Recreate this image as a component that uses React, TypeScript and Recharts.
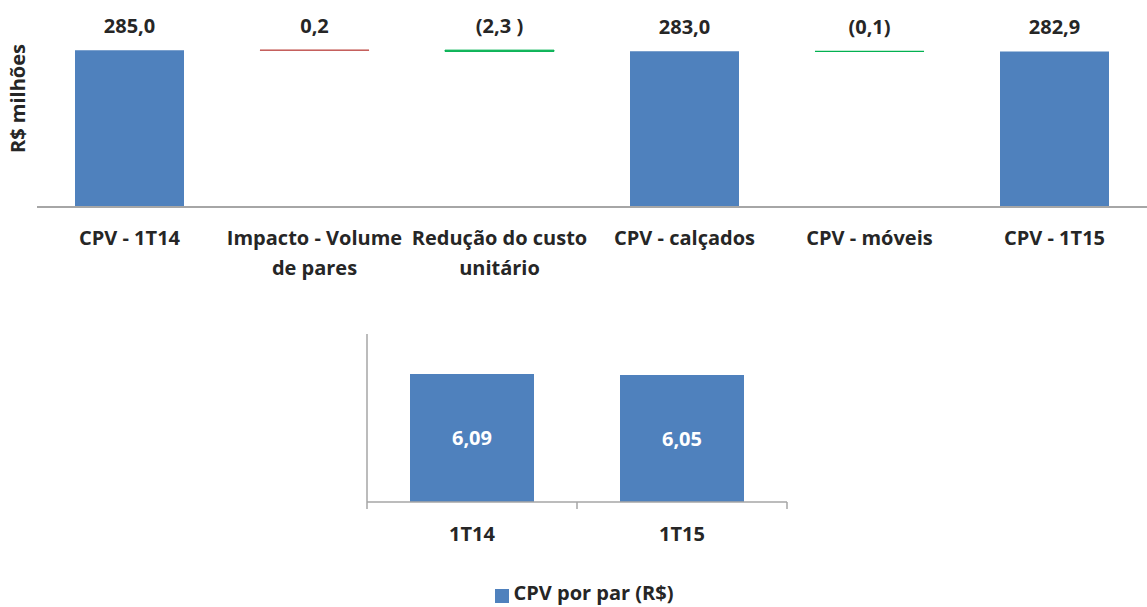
import React from 'react';
import { BarChart, Bar, XAxis, YAxis, Cell, LabelList, Legend } from 'recharts';

// CPV bridge (R$ milhões)
const bridgeCategories = [
  'CPV - 1T14',
  'Impacto - Volume\nde pares',
  'Redução do custo\nunitário',
  'CPV - calçados',
  'CPV - móveis',
  'CPV - 1T15',
];
const bridgeValues = [285.0, 0.2, -2.3, 283.0, -0.1, 282.9];
const bridgeIsTotal = [true, false, false, true, false, true];
const bridgeLabels = ['285,0', '0,2', '(2,3 )', '283,0', '(0,1)', '282,9'];

// CPV por par (R$)
const perPairPeriods = ['1T14', '1T15'];
const perPairValues = [6.09, 6.05];
const perPairLabels = ['6,09', '6,05'];

const FONT = "'Open Sans', 'Noto Sans', sans-serif";
const FS = 20;
const TEXT = '#262626';
const AXIS = '#a6a6a6';
const BLUE = '#4f81bd';
const RED = '#c0504d';
const GREEN = '#00b050';

let running = 0;
const bridgeData = bridgeCategories.map((name, i) => {
  const v = bridgeValues[i];
  let range: number[];
  if (bridgeIsTotal[i]) {
    range = [0, v];
    running = v;
  } else {
    const next = running + v;
    range = [Math.min(running, next), Math.max(running, next)];
    running = next;
  }
  const color = bridgeIsTotal[i] ? BLUE : v > 0 ? RED : GREEN;
  return { name, range, label: bridgeLabels[i], color, total: bridgeIsTotal[i] };
});

const perPairData = perPairPeriods.map((name, i) => ({
  name,
  value: perPairValues[i],
  label: perPairLabels[i],
}));

const BridgeLabel = (props: any) => {
  const { x, y, width, value } = props;
  return (
    <text
      x={x + width / 2}
      y={y - 25}
      textAnchor="middle"
      dominantBaseline="central"
      fontSize={FS}
      fontWeight={700}
      fill={TEXT}
      fontFamily={FONT}
    >
      {value}
    </text>
  );
};

const BridgeTick = (props: any) => {
  const { x, y, payload } = props;
  const lines = String(payload.value).split('\n');
  return (
    <g>
      {lines.map((line, i) => (
        <text
          key={i}
          x={x}
          y={y + 28 + i * 30}
          textAnchor="middle"
          dominantBaseline="central"
          fontSize={FS}
          fontWeight={700}
          fill={TEXT}
          fontFamily={FONT}
        >
          {line}
        </text>
      ))}
    </g>
  );
};

const PAIR_LEFT = 367;
const PAIR_RIGHT = 787;
const PAIR_BAND = (PAIR_RIGHT - PAIR_LEFT) / perPairPeriods.length;

const PairTick = (props: any) => {
  const { x, y, payload, index } = props;
  const axisY = y - 2;
  return (
    <g>
      <line x1={x - PAIR_BAND / 2} x2={x - PAIR_BAND / 2} y1={axisY} y2={axisY + 7} stroke={AXIS} strokeWidth={1.5} />
      {index === perPairPeriods.length - 1 && (
        <line x1={x + PAIR_BAND / 2} x2={x + PAIR_BAND / 2} y1={axisY} y2={axisY + 7} stroke={AXIS} strokeWidth={1.5} />
      )}
      <text
        x={x}
        y={axisY + 31}
        textAnchor="middle"
        dominantBaseline="central"
        fontSize={FS}
        fontWeight={700}
        fill={TEXT}
        fontFamily={FONT}
      >
        {payload.value}
      </text>
    </g>
  );
};

export default function App() {
  return (
    <div style={{ position: 'absolute', left: 0, top: 0, width: 1147, height: 607, background: '#fff', fontFamily: FONT }}>
      <div style={{ position: 'absolute', left: 0, top: 0 }}>
        <BarChart width={1147} height={290} data={bridgeData} margin={{ top: 42, right: 0, left: 0, bottom: 0 }}>
          <XAxis
            dataKey="name"
            height={83}
            axisLine={{ stroke: AXIS, strokeWidth: 2 }}
            tickLine={false}
            tickSize={0}
            tick={<BridgeTick />}
            interval={0}
          />
          <YAxis
            width={37}
            domain={[0, 300]}
            axisLine={false}
            tickLine={false}
            tick={false}
            label={{
              value: 'R$ milhões',
              angle: -90,
              position: 'center',
              dy: -26,
              dx: -1,
              style: { fontSize: FS, fontWeight: 700, fill: TEXT, fontFamily: FONT },
            }}
          />
          <Bar dataKey="range" barSize={109} isAnimationActive={false}>
            {bridgeData.map((d, i) => (
              <Cell key={i} fill={d.color} stroke={d.total ? 'none' : d.color} strokeWidth={d.total ? 0 : 1} />
            ))}
            <LabelList dataKey="label" content={<BridgeLabel />} />
          </Bar>
        </BarChart>
      </div>
      <div style={{ position: 'absolute', left: 0, top: 300 }}>
        <BarChart
          width={1147}
          height={307}
          data={perPairData}
          margin={{ top: 34, right: 1147 - PAIR_RIGHT, left: PAIR_LEFT - 60, bottom: 0 }}
        >
          <XAxis
            dataKey="name"
            height={105}
            axisLine={{ stroke: AXIS, strokeWidth: 1.5 }}
            tickLine={false}
            tickSize={0}
            tick={<PairTick />}
            interval={0}
          />
          <YAxis
            width={60}
            domain={[0, 8]}
            axisLine={{ stroke: AXIS, strokeWidth: 1.5 }}
            tickLine={false}
            tick={false}
          />
          <Legend
            verticalAlign="middle"
            align="center"
            iconType="square"
            iconSize={14}
            wrapperStyle={{ top: 279, left: 16, width: 1147 }}
            formatter={(value: string) => (
              <span style={{ color: TEXT, fontSize: FS, fontWeight: 700, fontFamily: FONT }}>{value}</span>
            )}
          />
          <Bar dataKey="value" name="CPV por par (R$)" fill={BLUE} barSize={124} isAnimationActive={false}>
            <LabelList
              dataKey="label"
              position="center"
              fill="#ffffff"
              style={{ fontSize: FS, fontWeight: 700, fontFamily: FONT }}
            />
          </Bar>
        </BarChart>
      </div>
    </div>
  );
}
